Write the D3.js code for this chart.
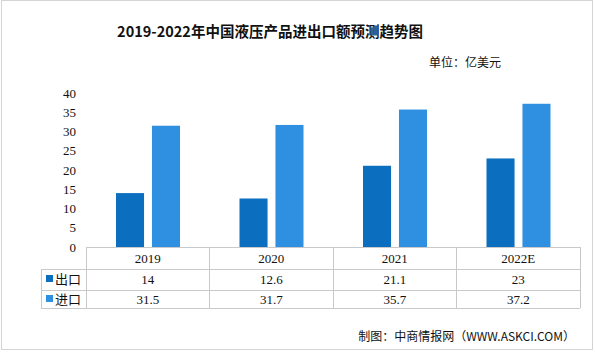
<!DOCTYPE html>
<html>
<head>
<meta charset="utf-8">
<script src="https://cdn.jsdelivr.net/npm/d3@7"></script>
<style>
  body { margin: 0; background: #fff; }
  svg { display: block; }
</style>
</head>
<body>
<div id="chart"></div>
<script>
// data
var years = ["2019", "2020", "2021", "2022E"];
var seriesNames = ["出口", "进口"];
var exportValues = [14, 12.6, 21.1, 23];
var importValues = [31.5, 31.7, 35.7, 37.2];
var yTicks = [0, 5, 10, 15, 20, 25, 30, 35, 40];
var colors = ["#0b6ebf", "#2f8fe0"];

var width = 595, height = 352;
var cjk = "'Noto Sans CJK SC', sans-serif";
var serif = "'Liberation Serif', 'DejaVu Serif', serif";

var svg = d3.select("#chart")
  .append("svg")
  .attr("width", width)
  .attr("height", height);

// outer frame
svg.append("rect")
  .attr("x", 1.5).attr("y", 0.5)
  .attr("width", 591).attr("height", 349)
  .attr("fill", "#fff")
  .attr("stroke", "#d4d4d4");

// title
svg.append("text")
  .attr("x", 270)
  .attr("y", 37)
  .attr("text-anchor", "middle")
  .attr("font-family", cjk)
  .attr("font-weight", "bold")
  .attr("font-size", 14.5)
  .attr("fill", "#111")
  .text("2019-2022年中国液压产品进出口额预测趋势图");

// unit
svg.append("text")
  .attr("x", 501)
  .attr("y", 67)
  .attr("text-anchor", "end")
  .attr("font-family", cjk)
  .attr("font-size", 12)
  .attr("fill", "#111")
  .text("单位：亿美元");

// scales
var x = d3.scaleBand()
  .domain(years)
  .range([86, 580]);

var xSub = d3.scaleBand()
  .domain(seriesNames)
  .range([30, 94])
  .paddingInner(0.22);

var y = d3.scaleLinear()
  .domain([0, 40])
  .range([247, 93]);

// y axis (no line, no ticks)
var yAxis = svg.append("g")
  .attr("transform", "translate(80,0)")
  .call(d3.axisLeft(y).tickValues(yTicks).tickSize(0).tickPadding(4));
yAxis.select(".domain").remove();
yAxis.selectAll("text")
  .attr("font-family", serif)
  .attr("font-size", 13)
  .attr("fill", "#111");

// bars
var rows = years.map(function(yr, i) {
  return { year: yr, values: [exportValues[i], importValues[i]] };
});

var groups = svg.selectAll(".year")
  .data(rows)
  .enter().append("g")
  .attr("class", "year")
  .attr("transform", function(d) { return "translate(" + x(d.year) + ",0)"; });

groups.selectAll("rect")
  .data(function(d) {
    return d.values.map(function(v, j) { return { name: seriesNames[j], value: v, idx: j }; });
  })
  .enter().append("rect")
  .attr("x", function(d) { return xSub(d.name); })
  .attr("width", xSub.bandwidth())
  .attr("y", function(d) { return y(d.value); })
  .attr("height", function(d) { return y(0) - y(d.value); })
  .attr("fill", function(d) { return colors[d.idx]; });

// data table under the plot
var lineColor = "#c9c9c9";
var tableTop = y(0), row1 = 269, row2 = 290, row3 = 308;
var tableLeft = 41, tableRight = x.range()[1];
var table = svg.append("g").attr("stroke", lineColor).attr("stroke-width", 1).attr("shape-rendering", "crispEdges");

table.append("line").attr("x1", x.range()[0]).attr("x2", tableRight).attr("y1", tableTop).attr("y2", tableTop);
[row1, row2, row3].forEach(function(yy) {
  table.append("line").attr("x1", tableLeft).attr("x2", tableRight).attr("y1", yy).attr("y2", yy);
});
table.append("line").attr("x1", tableLeft).attr("x2", tableLeft).attr("y1", row1).attr("y2", row3);
years.forEach(function(yr) {
  table.append("line").attr("x1", x(yr)).attr("x2", x(yr)).attr("y1", tableTop).attr("y2", row3);
});
table.append("line").attr("x1", tableRight).attr("x2", tableRight).attr("y1", tableTop).attr("y2", row3);

// header years
svg.selectAll(".hdr")
  .data(years)
  .enter().append("text")
  .attr("class", "hdr")
  .attr("x", function(d) { return x(d) + x.bandwidth() / 2; })
  .attr("y", 263)
  .attr("text-anchor", "middle")
  .attr("font-family", serif)
  .attr("font-size", 13)
  .attr("fill", "#111")
  .text(function(d) { return d; });

// value rows
var rowY = [284, 304];
[exportValues, importValues].forEach(function(vals, j) {
  svg.selectAll(".val" + j)
    .data(vals)
    .enter().append("text")
    .attr("class", "val" + j)
    .attr("x", function(d, i) { return x(years[i]) + x.bandwidth() / 2; })
    .attr("y", rowY[j])
    .attr("text-anchor", "middle")
    .attr("font-family", serif)
    .attr("font-size", 13)
    .attr("fill", "#111")
    .text(function(d) { return d; });

  svg.append("rect")
    .attr("x", 46).attr("y", rowY[j] - 9)
    .attr("width", 7).attr("height", 7)
    .attr("fill", colors[j]);

  svg.append("text")
    .attr("x", 55)
    .attr("y", rowY[j])
    .attr("font-family", cjk)
    .attr("font-size", 13)
    .attr("fill", "#111")
    .text(seriesNames[j]);
});

// source
svg.append("text")
  .attr("x", 575)
  .attr("y", 341)
  .attr("text-anchor", "end")
  .attr("font-family", cjk)
  .attr("font-size", 12)
  .attr("fill", "#111")
  .text("制图：中商情报网（WWW.ASKCI.COM）");
</script>
</body>
</html>
